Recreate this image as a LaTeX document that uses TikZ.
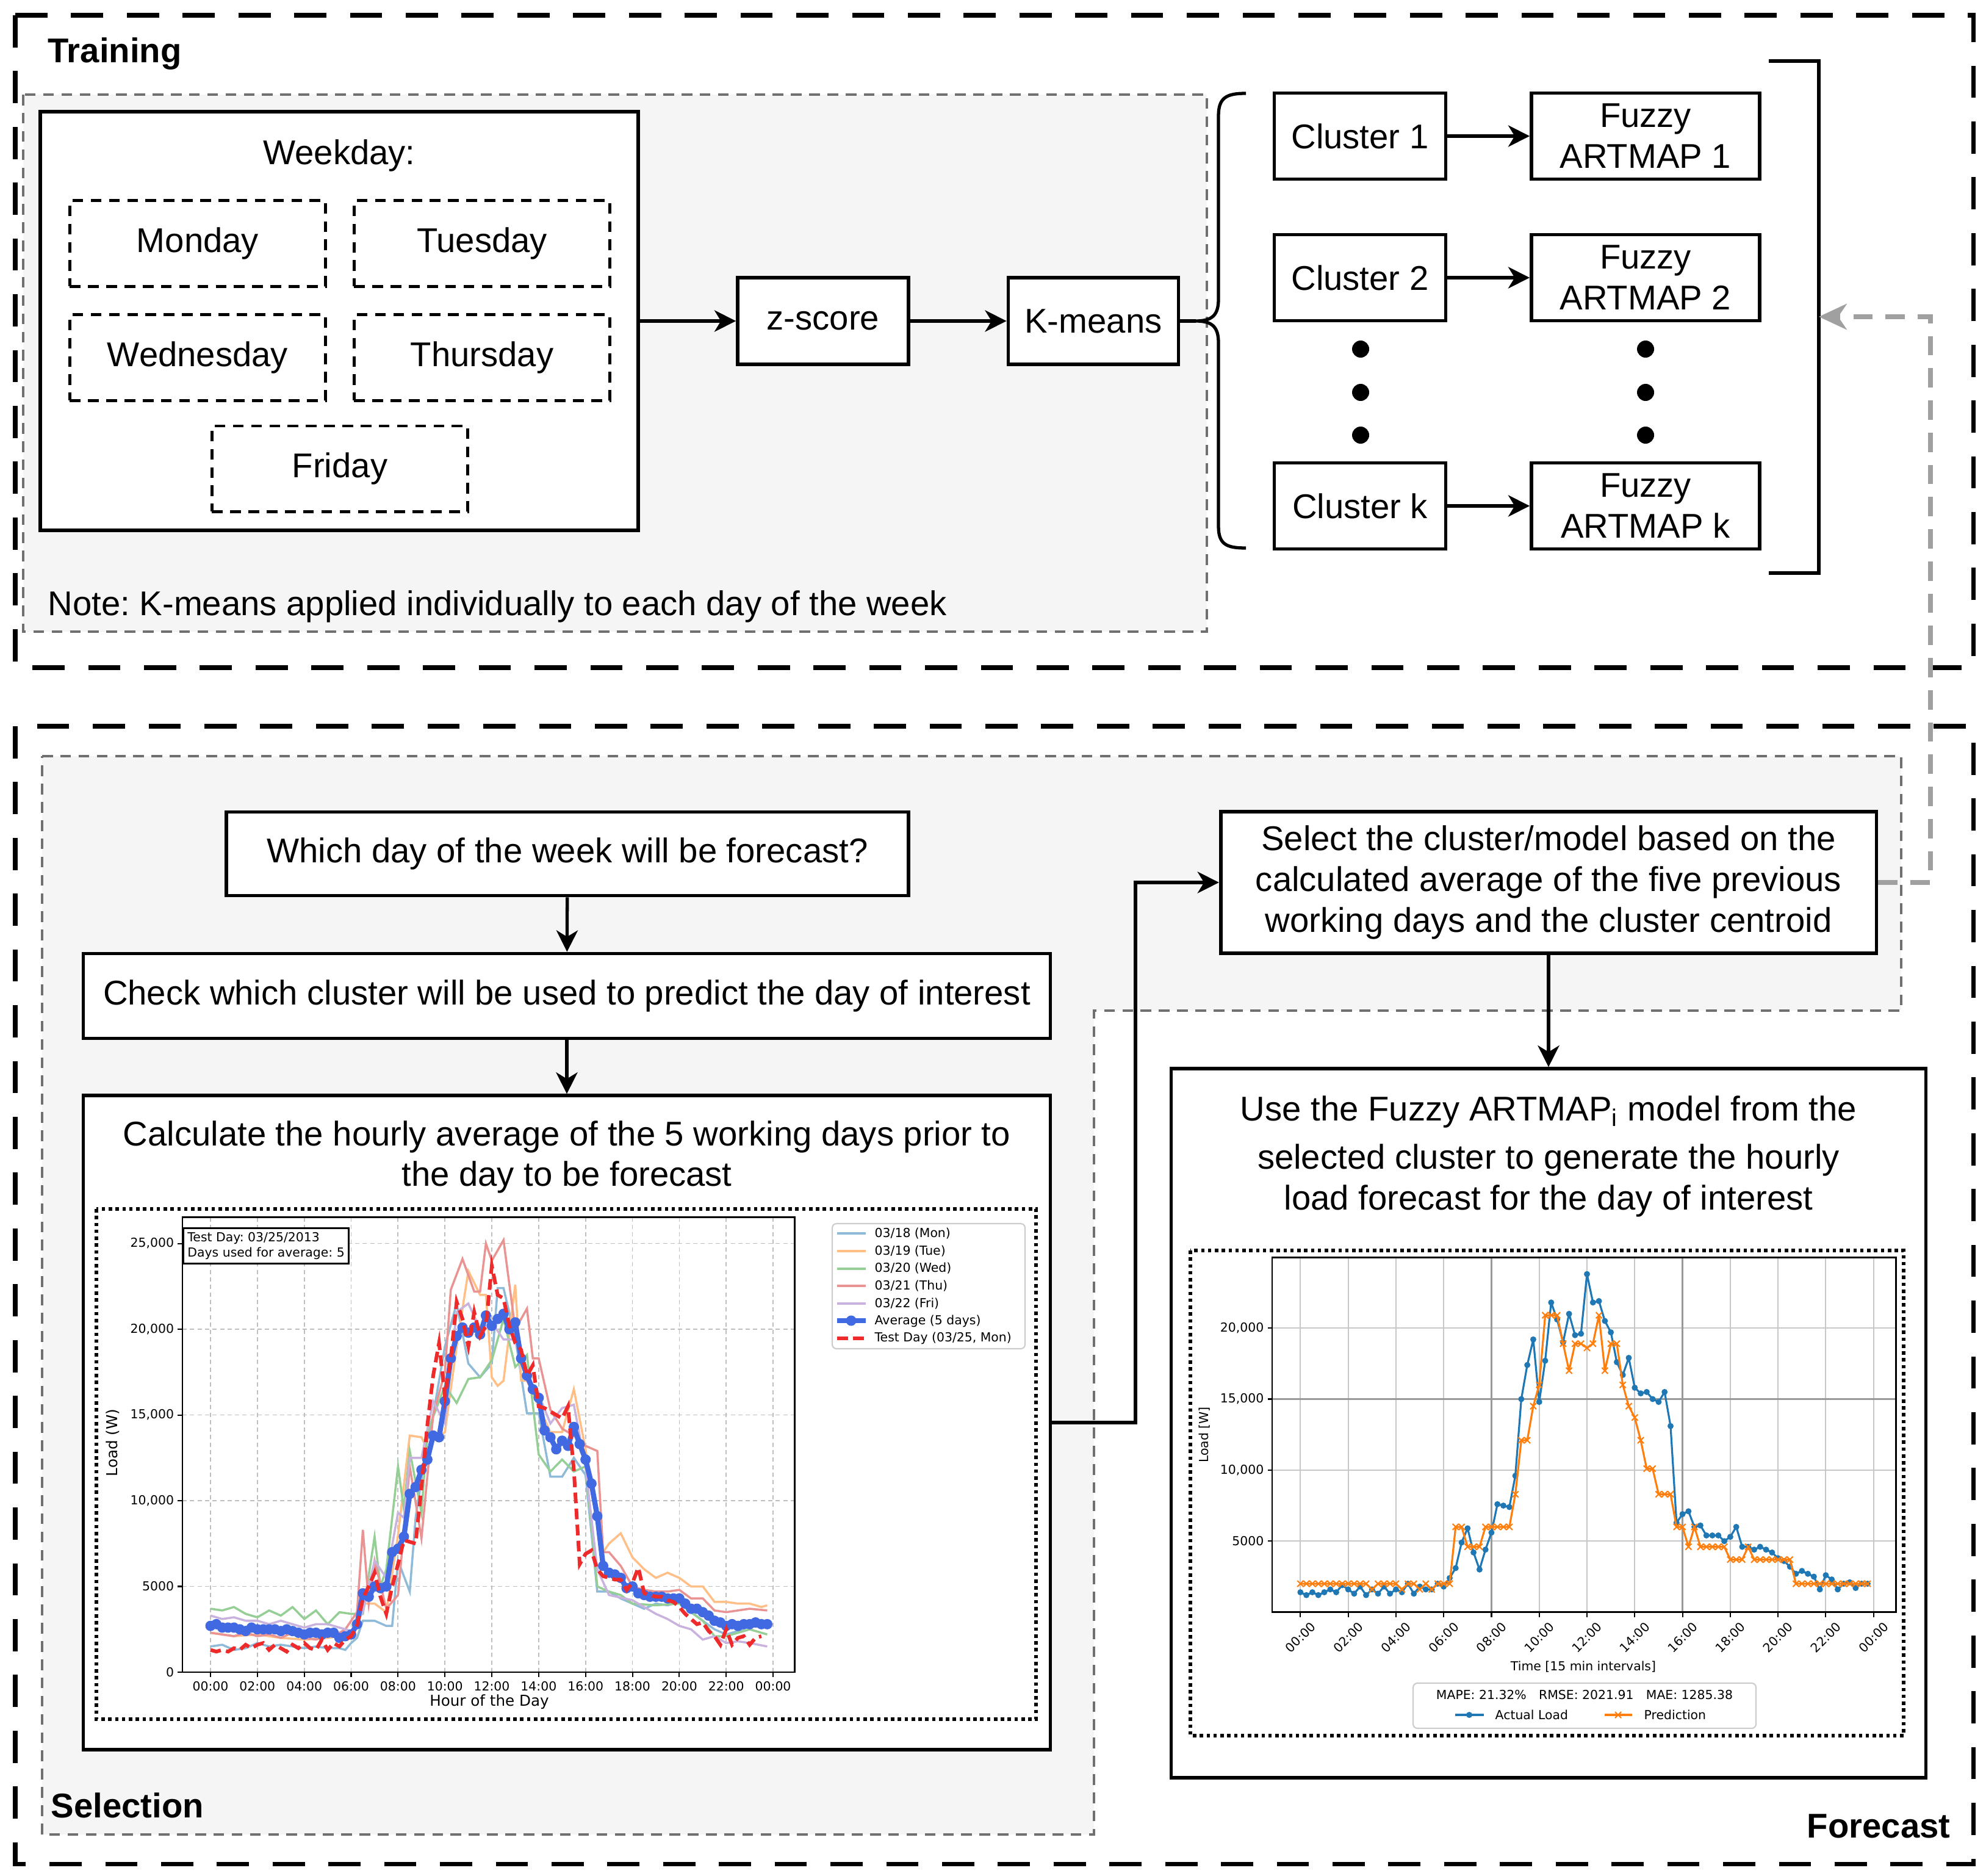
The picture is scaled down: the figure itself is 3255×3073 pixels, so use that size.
\documentclass[tikz,border=0pt]{standalone}
\usepackage{fontspec}
\setmainfont{Liberation Sans}
\newfontfamily\plotfont{DejaVu Sans}
\usetikzlibrary{arrows.meta,positioning,calc}
\frenchspacing

\definecolor{panelgray}{HTML}{F5F5F5}
\definecolor{dashgray}{HTML}{707070}
\definecolor{linkgray}{HTML}{A0A0A0}
\definecolor{monc}{HTML}{8FBBD9}
\definecolor{tuec}{HTML}{FFBF86}
\definecolor{wedc}{HTML}{95CF95}
\definecolor{thuc}{HTML}{EA9393}
\definecolor{fric}{HTML}{C9B3DE}
\definecolor{avgc}{HTML}{4169E1}
\definecolor{testc}{HTML}{EE2A2A}
\definecolor{actc}{HTML}{1F77B4}
\definecolor{predc}{HTML}{FF7F0E}

\newcommand{\boxfont}{\fontsize{16}{19}\selectfont}
\newcommand{\tickfont}{\plotfont\fontsize{5.8}{7}\selectfont}
\newcommand{\axisfont}{\plotfont\fontsize{7}{8}\selectfont}

% load profiles, one value per 15 min (kW)
\def\avgload{2.7,2.8,2.6,2.6,2.6,2.5,2.4,2.6,2.5,2.5,2.5,2.5,2.4,2.5,2.4,2.3,2.2,2.3,2.3,2.2,2.3,2.3,2.0,2.1,2.2,2.8,4.6,4.4,5.0,4.9,5.0,7.0,7.2,7.9,10.4,10.8,11.8,12.4,13.8,13.7,15.8,18.3,19.6,20.1,19.8,20.1,19.7,20.8,20.2,20.6,20.9,20.0,20.4,18.3,17.3,16.5,16.0,14.1,13.7,13.0,13.5,13.2,14.3,13.3,12.4,11.0,9.1,6.2,5.8,5.7,5.5,4.9,5.0,4.6,4.5,4.4,4.4,4.4,4.3,4.3,4.3,4.0,3.7,3.7,3.5,3.3,3.0,2.9,2.7,2.8,2.7,2.8,2.8,2.9,2.8,2.8}
\def\testload{1.3,1.2,1.3,1.2,1.4,1.3,1.6,1.4,1.6,1.7,1.3,1.6,1.4,1.2,1.6,1.4,1.7,1.4,1.3,1.9,1.3,1.7,1.5,1.9,2.1,2.7,4.3,5.0,5.8,4.4,3.4,5.0,6.3,7.7,7.6,7.5,10.8,14.4,17.3,19.2,16.1,18.3,21.6,20.6,19.0,21.0,19.6,20.2,23.7,22.0,21.8,20.2,19.2,18.8,17.3,17.9,15.5,15.4,15.2,15.0,14.8,15.5,11.8,6.3,6.9,7.1,6.0,5.6,5.5,5.4,5.4,4.8,5.2,6.1,4.6,4.5,4.4,4.4,4.2,4.1,3.8,3.4,3.1,2.8,2.9,2.4,2.1,1.6,2.5,1.6,2.0,2.1,1.6,2.0,2.1}
\def\actualload{1.4,1.2,1.4,1.2,1.4,1.6,1.4,1.9,1.6,1.3,1.8,1.2,1.6,1.3,1.8,1.3,1.6,1.4,2.0,1.3,1.8,1.6,1.6,2.0,1.8,2.4,3.1,4.9,5.9,4.2,3.0,4.4,5.6,7.6,7.5,7.4,9.6,15.0,17.4,19.2,14.8,17.7,21.8,20.6,19.0,21.0,19.5,19.6,23.8,21.8,21.9,20.5,19.7,17.6,16.7,17.9,15.8,15.4,15.5,15.0,14.8,15.5,13.1,6.3,6.9,7.1,6.0,6.1,5.4,5.4,5.4,5.0,5.3,6.0,4.6,4.6,4.4,4.6,4.4,4.2,3.8,3.6,3.2,2.7,2.9,2.7,2.5,1.6,2.6,2.3,1.6,2.0,2.1,1.7,2.0,2.0}
\def\predload{2.0,2.0,2.0,2.0,2.0,2.0,2.0,2.0,2.0,2.0,2.0,2.0,1.6,2.0,2.0,2.0,2.0,1.6,2.0,2.0,1.6,2.0,1.6,2.0,2.0,2.0,6.0,6.0,4.6,4.6,4.6,6.0,6.0,6.0,6.0,6.0,8.3,12.1,12.1,14.5,16.0,20.9,20.9,20.9,18.9,17.0,18.9,18.9,18.6,18.9,20.9,17.0,18.9,18.9,16.0,14.5,13.7,12.1,10.1,10.1,8.3,8.3,8.3,6.0,6.0,4.6,6.0,4.6,4.6,4.6,4.6,4.6,3.7,3.7,3.7,4.6,3.7,3.7,3.7,3.7,3.7,3.7,3.7,2.0,2.0,2.0,2.0,2.0,2.0,2.0,2.0,2.0,2.0,2.0,2.0,2.0}

\begin{document}
\begin{tikzpicture}[x=0.01cm, y=-0.01cm,
    box/.style={draw, line width=1.6pt, fill=white, align=center, font=\boxfont, inner sep=0pt},
    daybox/.style={box, line width=1.4pt, dash pattern=on 5pt off 3.5pt, minimum width=4.19cm, minimum height=1.40cm},
    stage/.style={draw, line width=2pt, dash pattern=on 15pt off 11pt},
    panel/.style={draw=dashgray, fill=panelgray, line width=1pt, dash pattern=on 5pt off 3.5pt},
    flow/.style={-{Stealth[length=10pt, width=10pt, inset=3pt]}, line width=1.5pt},
    link/.style={-{Stealth[length=13pt, width=12pt, inset=4pt]}, draw=linkgray, line width=2.2pt, dash pattern=on 9pt off 6pt},
    title/.style={font=\boxfont\bfseries, anchor=west, inner sep=0pt},
    plotframe/.style={draw, line width=1.5pt, dash pattern=on 1.6pt off 1.6pt},
    gridA/.style={draw=black!25, line width=0.5pt, dash pattern=on 2pt off 1.5pt},
    gridB/.style={draw=black!22, line width=0.6pt},
    gridC/.style={draw=black!40, line width=0.9pt},
    legendbox/.style={draw=black!20, fill=white, line width=0.6pt, rounded corners=2pt},
    dayline/.style={line width=1pt},
]
\useasboundingbox (0,0) rectangle (3255,3073);

% stage frames
\draw[stage] (25,25) rectangle (3234,1094);
\draw[stage] (25,1190) rectangle (3234,3054);

% grey panels
\draw[panel] (38,155) rectangle (1978,1035);
\draw[panel] (69,1239) -- (3116,1239) -- (3116,1656) -- (1793,1656) -- (1793,3006) -- (69,3006) -- cycle;

\node[title] (trainlabel) at (78,88) {Training};
\node[title] (sellabel) at (83,2958) {Selection};
\node[title, anchor=east] (forelabel) at (3197,2992) {Forecast};
\node[font=\boxfont, anchor=west, inner sep=0pt] (note) at (78,994) {Note: K-means applied individually to each day of the week};

% Training: weekdays
\node[box, minimum width=9.80cm, minimum height=6.85cm] (week) at (556,526) {};
\node[font=\boxfont] (weeklabel) at (556,255) {Weekday:};
\node[daybox] (mon) at (324,399) {Monday};
\node[daybox] (tue) at (790,399) {Tuesday};
\node[daybox] (wed) at (324,586) {Wednesday};
\node[daybox] (thu) at (790,586) {Thursday};
\node[daybox] (fri) at (557,768) {Friday};

\node[box, minimum width=2.80cm, minimum height=1.42cm] (zscore) at (1349,526) {z-score};
\node[box, minimum width=2.79cm, minimum height=1.42cm] (kmeans) at (1792,526) {K-means};

\draw[flow] (week.east) -- (zscore.west);
\draw[flow] (zscore) -- (kmeans);

% brace over the clusters
\coordinate (bracetip) at (1960,526);
\draw[line width=1.5pt] (kmeans.east) -- (bracetip);
\draw[line width=1.5pt] (2042,153) .. controls (2010,153) and (1997,160) .. (1997,190) -- (1997,490)
  .. controls (1997,515) and (1988,526) .. (bracetip)
  .. controls (1988,526) and (1997,537) .. (1997,562) -- (1997,862)
  .. controls (1997,892) and (2010,898) .. (2042,898);

% clusters and models
\foreach \n/\t/\y in {1/1/223, 2/2/455, k/k/829} {
  \node[box, minimum width=2.81cm, minimum height=1.41cm] (c\n) at (2229,\y) {Cluster \t};
  \node[box, minimum width=3.74cm, minimum height=1.41cm] (f\n) at (2697,\y) {Fuzzy\\ARTMAP \t};
  \draw[flow] (c\n) -- (f\n);
}
\foreach \y in {572,643,713} {
  \fill (2230,\y) circle (0.14cm);
  \fill (2697,\y) circle (0.14cm);
}

% closing bracket
\draw[line width=1.6pt] (2899,100) -- (2981,100) -- (2981,939) -- (2899,939);
\coordinate (bracketmid) at (2981,519);

% Selection
\node[box, minimum width=11.17cm, minimum height=1.37cm] (which) at (930,1399) {Which day of the week will be forecast?};
\node[box, minimum width=15.84cm, minimum height=1.39cm] (check) at (929,1632) {Check which cluster will be used to predict the day of interest};
\node[box, minimum width=15.84cm, minimum height=10.71cm] (calc) at (929,2331) {};
\node[font=\boxfont, align=center] (calctext) at (929,1896) {Calculate the hourly average of the 5 working days prior to\\the day to be forecast};
\node[box, minimum width=10.74cm, minimum height=2.32cm] (select) at (2538,1446) {Select the cluster/model based on the\\calculated average of the five previous\\working days and the cluster centroid};

\draw[flow] (which) -- (check);
\draw[flow] (check) -- (calc);
\coordinate (bend) at (1861,2331);
\draw[flow] (calc.east) -- (bend) |- (select.west);

% Forecast
\node[box, minimum width=12.36cm, minimum height=11.61cm] (use) at (2538,2332) {};
\node[font=\boxfont, align=center] (usetext) at (2538,1895) {Use the Fuzzy ARTMAP\textsubscript{i} model from the\\[0.12cm]selected cluster to generate the hourly\\load forecast for the day of interest};
\draw[flow] (select) -- (use);

% feedback to the trained models
\coordinate (linkup) at (3164,519);
\draw[link] (select.east) -| (linkup) -- (bracketmid);

% ---- chart: five previous days and average
\draw[plotframe] (158,1981) rectangle (1698,2817);
\begin{scope}[shift={(345,2740)}, x=0.096cm, y=0.2808cm]
  \fill[white] (-4.79,0) rectangle (99.7,26.53);
  \foreach \q in {0,8,...,96} \draw[gridA] (\q,0) -- (\q,26.53);
  \foreach \v in {5,10,...,25} \draw[gridA] (-4.79,\v) -- (99.7,\v);
  \draw[monc, dayline] plot coordinates {(0,1.5) (2,1.6) (4,1.3) (6,1.4) (8,1.7) (10,1.5) (12,1.6) (14,1.5) (16,1.4) (18,1.5) (20,1.4) (22,1.4) (23,1.3) (24,1.7) (25,2.0) (26,3.0) (28,3.0) (30,2.7) (31,2.7) (32,6.5) (34,4.7) (35,9.0) (37,13.5) (38,15.0) (40,19.0) (42,21.5) (44,18.0) (46,17.2) (48,18.0) (49,22.4) (50,22.4) (52,19.5) (54,15.1) (56,15.1) (58,11.4) (60,11.4) (62,12.5) (64,11.5) (66,4.7) (68,4.7) (70,4.3) (72,4.0) (74,3.7) (76,4.0) (78,3.9) (80,4.1) (82,3.5) (84,3.0) (86,2.5) (88,2.2) (90,2.4) (92,2.7) (95,2.6)};
  \draw[tuec, dayline] plot coordinates {(0,2.3) (4,2.1) (8,2.2) (12,2.0) (16,1.9) (20,2.0) (24,2.2) (25,3.0) (26,4.0) (28,4.0) (30,3.5) (32,8.0) (34,13.8) (36,13.7) (37,13.0) (38,13.5) (40,14.0) (42,19.0) (44,23.4) (46,22.0) (47,22.0) (48,17.2) (49,16.7) (50,17.0) (52,22.6) (53,17.0) (54,17.0) (56,15.5) (58,14.0) (60,14.0) (62,16.5) (64,13.0) (66,8.7) (67,7.0) (68,7.5) (70,8.1) (72,6.7) (74,6.0) (76,5.5) (78,5.8) (80,5.5) (82,5.0) (84,5.0) (86,4.1) (88,4.1) (90,4.0) (92,4.0) (94,3.8) (95,3.9)};
  \draw[wedc, dayline] plot coordinates {(0,3.7) (2,3.6) (4,3.8) (6,3.4) (8,3.2) (10,3.6) (12,3.3) (14,3.8) (16,3.1) (18,3.6) (20,2.8) (22,3.5) (24,3.4) (26,3.4) (28,7.9) (29,5.0) (30,6.0) (32,12.0) (33,9.5) (34,12.9) (36,9.3) (37,14.0) (40,16.7) (42,15.7) (44,17.1) (46,17.2) (48,18.2) (50,20.6) (52,17.8) (54,18.5) (56,12.7) (58,11.7) (60,12.4) (62,11.7) (64,12.0) (66,5.0) (68,4.7) (70,4.5) (72,4.0) (76,3.9) (80,4.0) (84,3.0) (86,2.1) (88,2.1) (92,2.5) (95,2.2)};
  \draw[thuc, dayline] plot coordinates {(0,2.3) (2,2.2) (4,2.1) (6,2.3) (8,2.1) (10,2.2) (12,2.0) (14,2.3) (16,2.0) (18,1.9) (20,2.1) (22,2.3) (23,2.5) (25,3.5) (26,8.3) (27,4.0) (28,6.5) (30,3.7) (32,4.5) (34,12.0) (36,7.8) (38,15.0) (40,17.5) (41,22.3) (43,24.1) (45,22.2) (46,22.2) (47,25.0) (48,24.0) (50,25.2) (52,20.0) (54,21.2) (55,18.3) (56,18.3) (58,15.3) (60,14.2) (62,13.8) (64,13.2) (66,12.9) (67,7.0) (68,7.0) (70,6.2) (72,5.0) (74,4.8) (76,4.7) (78,4.7) (80,4.8) (82,4.3) (84,4.3) (86,3.6) (88,3.5) (90,3.6) (92,3.7) (95,3.6)};
  \draw[fric, dayline] plot coordinates {(0,3.3) (2,3.1) (4,3.2) (6,3.0) (8,3.0) (10,2.8) (12,3.0) (14,2.8) (16,2.6) (18,2.8) (20,2.8) (22,2.6) (24,2.4) (26,3.5) (28,6.5) (30,5.5) (32,9.3) (33,9.0) (34,12.5) (36,12.5) (38,15.8) (40,14.5) (42,21.0) (44,21.5) (46,20.0) (48,20.4) (50,19.4) (52,19.4) (54,17.0) (56,16.2) (58,14.5) (60,15.4) (62,15.6) (64,12.0) (66,6.0) (68,4.5) (72,4.2) (74,3.8) (76,3.4) (78,3.1) (80,2.7) (82,2.5) (84,1.9) (86,2.1) (88,1.7) (90,1.8) (92,1.7) (95,1.5)};
  % average of the five days
  \draw[avgc, line width=2.4pt, line join=round] (0,2.7) \foreach \v [count=\i from 0] in \avgload { -- (\i,\v) };
  \foreach \v [count=\i from 0] in \avgload \fill[avgc] (\i,\v) circle (0.085cm);
  % test day
  \draw[testc, line width=1.7pt, dash pattern=on 5pt off 2.5pt] (0,1.3) \foreach \v [count=\i from 0] in \testload { -- (\i,\v) };
  % axes
  \draw[line width=0.8pt] (-4.79,0) rectangle (99.7,26.53);
  \foreach \t [count=\i from 0] in {00:00,02:00,04:00,06:00,08:00,10:00,12:00,14:00,16:00,18:00,20:00,22:00,00:00} {
    \draw[line width=0.6pt] (\i*8,0) -- (\i*8,-0.28);
    \node[font=\tickfont, anchor=north, inner sep=1pt] at (\i*8,-0.4) {\t};
  }
  \foreach \v/\t in {0/0, 5/5000, 10/{10,000}, 15/{15,000}, 20/{20,000}, 25/{25,000}} {
    \draw[line width=0.6pt] (-4.79,\v) -- (-5.6,\v);
    \node[font=\tickfont, anchor=east, inner sep=1pt] at (-5.8,\v) {\t};
  }
\end{scope}
\node[font=\axisfont, rotate=90] (loadlabel) at (185,2364) {Load (W)};
\node[font=\axisfont] (hourlabel) at (802,2789) {Hour of the Day};
\node[draw, fill=white, line width=0.8pt, align=left, anchor=north west, inner sep=2pt, font=\tickfont] (infobox) at (299,2011) {Test Day: 03/25/2013\\Days used for average: 5};

% legend of the average chart
\draw[legendbox] (1364,2005) rectangle (1680,2210);
\draw[monc, dayline] (1372,2021) -- (1419,2021);
\draw[tuec, dayline] (1372,2050) -- (1419,2050);
\draw[wedc, dayline] (1372,2079) -- (1419,2079);
\draw[thuc, dayline] (1372,2107) -- (1419,2107);
\draw[fric, dayline] (1372,2136) -- (1419,2136);
\draw[avgc, line width=2.4pt] (1372,2164) -- (1419,2164);
\fill[avgc] (1395,2164) circle (0.085cm);
\draw[testc, line width=1.7pt, dash pattern=on 5pt off 2.5pt] (1372,2193) -- (1419,2193);
\foreach \t [count=\k from 0] in {03/18 (Mon), 03/19 (Tue), 03/20 (Wed), 03/21 (Thu), 03/22 (Fri), Average (5 days), {Test Day (03/25, Mon)}}
  \node[font=\tickfont, anchor=west, inner sep=0pt] at (1433,2021+28.7*\k) {\t};

% ---- chart: forecast against actual load
\draw[plotframe] (1951,2049) rectangle (3120,2844);
\begin{scope}[shift={(2131.3,2641.6)}, x=0.0978cm, y=0.2326cm]
  \fill[white] (-4.73,0) rectangle (99.77,24.96);
  \foreach \q in {0,8,...,96} \draw[gridB] (\q,0) -- (\q,24.96);
  \foreach \v in {5,10,15,20} \draw[gridB] (-4.73,\v) -- (99.77,\v);
  \draw[gridC] (32,0) -- (32,24.96);
  \draw[gridC] (64,0) -- (64,24.96);
  \draw[gridC] (-4.73,15) -- (99.77,15);
  % actual load
  \draw[actc, line width=0.9pt, line join=round] (0,1.4) \foreach \v [count=\i from 0] in \actualload { -- (\i,\v) };
  \foreach \v [count=\i from 0] in \actualload \fill[actc] (\i,\v) circle (0.05cm);
  % prediction
  \draw[predc, line width=0.9pt, line join=round] (0,2.0) \foreach \v [count=\i from 0] in \predload { -- (\i,\v) };
  \foreach \v [count=\i from 0] in \predload
    \draw[predc, line width=0.6pt] (\i,\v) +(-0.05cm,-0.05cm) -- +(0.05cm,0.05cm) +(-0.05cm,0.05cm) -- +(0.05cm,-0.05cm);
  % axes
  \draw[line width=0.8pt] (-4.73,0) rectangle (99.77,24.96);
  \foreach \t [count=\i from 0] in {00:00,02:00,04:00,06:00,08:00,10:00,12:00,14:00,16:00,18:00,20:00,22:00,00:00} {
    \draw[line width=0.6pt] (\i*8,0) -- (\i*8,-0.35);
    \node[font=\tickfont, rotate=45, inner sep=0pt] at (\i*8,-1.78) {\t};
  }
  \foreach \v/\t in {5/5000, 10/{10,000}, 15/{15,000}, 20/{20,000}} {
    \draw[line width=0.6pt] (-4.73,\v) -- (-5.5,\v);
    \node[font=\tickfont, anchor=east, inner sep=1pt] at (-5.7,\v) {\t};
  }
\end{scope}
\node[font=\tickfont, rotate=90] (wlabel) at (1974,2351) {Load [W]};
\node[font=\tickfont] (timelabel) at (2595,2731) {Time [15 min intervals]};

% legend of the forecast chart
\draw[legendbox] (2316,2758) rectangle (2878,2832);
\node[font=\tickfont] (scores) at (2597,2777) {MAPE: 21.32\%\quad RMSE: 2021.91\quad MAE: 1285.38};
\draw[actc, line width=0.9pt] (2385,2810) -- (2432,2810);
\fill[actc] (2408,2810) circle (0.05cm);
\node[font=\tickfont, anchor=west, inner sep=0pt] (actkey) at (2450,2810) {Actual Load};
\draw[predc, line width=0.9pt] (2630,2810) -- (2675,2810);
\draw[predc, line width=0.6pt] (2652,2810) +(-0.05cm,-0.05cm) -- +(0.05cm,0.05cm) +(-0.05cm,0.05cm) -- +(0.05cm,-0.05cm);
\node[font=\tickfont, anchor=west, inner sep=0pt] (predkey) at (2694,2810) {Prediction};
\end{tikzpicture}
\end{document}
